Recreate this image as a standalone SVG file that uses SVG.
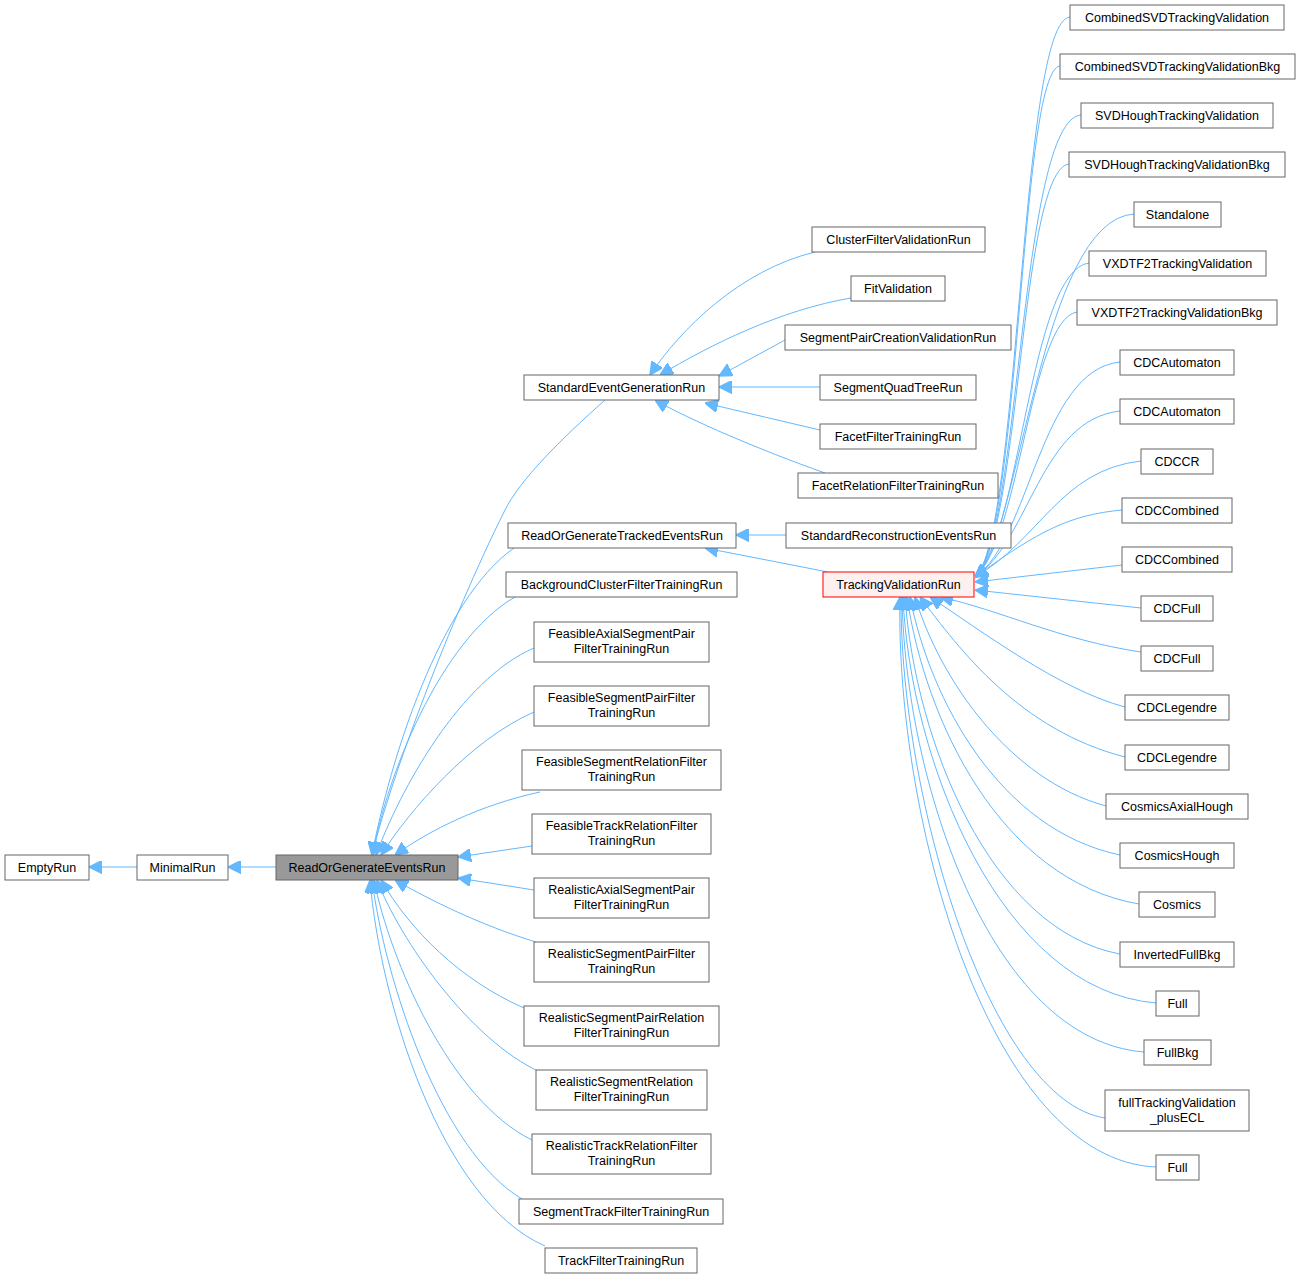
<svg xmlns="http://www.w3.org/2000/svg" width="1300" height="1280" viewBox="0 0 1300 1280">
<style>
.n rect{fill:#fff;stroke:#666;stroke-width:1}
.n text{font-family:"Liberation Sans",Arial,sans-serif;font-size:12.5px;fill:#000;text-anchor:middle}
#e path{fill:none;stroke:#63b8ff;stroke-width:1}
</style>
<defs><marker id="a" viewBox="0 0 10 10" refX="10" refY="5" markerWidth="13" markerHeight="13" markerUnits="userSpaceOnUse" orient="auto"><path d="M0,0 L10,5 L0,10 z" fill="#63b8ff" stroke="#63b8ff"/></marker></defs>
<rect width="1300" height="1280" fill="#fff"/>
<g id="e" marker-end="url(#a)">
<path d="M137,867 L89,867"/>
<path d="M276,867 L228,867"/>
<path d="M605,400 C560,440 520,480 505,510 C450,620 390,780 372,855"/>
<path d="M514,548 C440,600 390,760 372,855"/>
<path d="M515,597 C440,640 385,780 373,855"/>
<path d="M534,648 C460,680 400,790 376,855"/>
<path d="M534,712 C470,740 410,810 381,855"/>
<path d="M540,792 C480,805 430,830 395,855"/>
<path d="M532,846 L458,857"/>
<path d="M534,890 L458,878"/>
<path d="M536,942 C480,925 430,900 395,880"/>
<path d="M524,1008 C460,980 410,930 381,880"/>
<path d="M540,1072 C470,1040 400,940 377,880"/>
<path d="M532,1140 C450,1100 390,960 374,880"/>
<path d="M522,1199 C440,1150 385,980 372,880"/>
<path d="M545,1246 C440,1200 380,1000 370,880"/>
<path d="M815,252 C740,270 680,330 650,375"/>
<path d="M851,298 C780,310 710,345 660,375"/>
<path d="M785,340 L719,376"/>
<path d="M820,387 L719,387"/>
<path d="M820,430 L705,403"/>
<path d="M825,473 C760,450 690,420 655,400"/>
<path d="M786,535 L736,535"/>
<path d="M828,572 L705,548"/>
<path d="M1070,17 C1020,20 1020,540 975,577"/>
<path d="M1060,66 C1020,70 1020,540 975,577"/>
<path d="M1081,115 C1020,120 1020,540 975,577"/>
<path d="M1069,164 C1020,170 1020,540 975,577"/>
<path d="M1134,214 C1040,220 1020,540 975,577"/>
<path d="M1089,263 C1030,270 1020,540 975,577"/>
<path d="M1077,312 C1030,320 1020,540 975,577"/>
<path d="M1120,362 C1040,370 1030,540 975,577"/>
<path d="M1120,411 C1040,420 1030,540 975,577"/>
<path d="M1141,461 C1060,470 1040,540 975,577"/>
<path d="M1122,510 C1070,515 1040,530 975,577"/>
<path d="M1122,565 L975,582"/>
<path d="M1141,608 L975,590"/>
<path d="M1141,652 C1060,640 1000,610 940,597"/>
<path d="M1125,707 C1060,690 980,630 930,597"/>
<path d="M1125,757 C1020,730 960,650 920,597"/>
<path d="M1106,806 C1010,780 940,680 915,597"/>
<path d="M1120,855 C1000,830 930,700 910,597"/>
<path d="M1139,904 C1000,880 925,720 907,597"/>
<path d="M1120,954 C990,930 915,740 905,597"/>
<path d="M1156,1003 C1000,990 910,760 903,597"/>
<path d="M1144,1052 C990,1040 905,780 902,597"/>
<path d="M1105,1118 C990,1100 900,800 901,597"/>
<path d="M1156,1167 C990,1160 895,820 900,597"/>
</g>
<g class="n" id="n_empty"><rect x="5" y="855" width="84" height="25"/><text x="47" y="872">EmptyRun</text></g>
<g class="n" id="n_minimal"><rect x="137" y="855" width="91" height="25"/><text x="182.5" y="872">MinimalRun</text></g>
<g class="n" id="n_rogev"><rect x="276" y="855" width="182" height="25" style="fill:#999"/><text x="367" y="872">ReadOrGenerateEventsRun</text></g>
<g class="n" id="n_seg"><rect x="524" y="375" width="195" height="25"/><text x="621.5" y="392">StandardEventGenerationRun</text></g>
<g class="n" id="n_rogt"><rect x="508" y="523" width="228" height="25"/><text x="622" y="540">ReadOrGenerateTrackedEventsRun</text></g>
<g class="n" id="n_bg"><rect x="506" y="572" width="231" height="25"/><text x="621.5" y="589">BackgroundClusterFilterTrainingRun</text></g>
<g class="n" id="n_c1"><rect x="534" y="622" width="175" height="40"/><text x="621.5" y="638">FeasibleAxialSegmentPair</text><text x="621.5" y="653">FilterTrainingRun</text></g>
<g class="n" id="n_c2"><rect x="534" y="686" width="175" height="40"/><text x="621.5" y="702">FeasibleSegmentPairFilter</text><text x="621.5" y="717">TrainingRun</text></g>
<g class="n" id="n_c3"><rect x="522" y="750" width="199" height="40"/><text x="621.5" y="766">FeasibleSegmentRelationFilter</text><text x="621.5" y="781">TrainingRun</text></g>
<g class="n" id="n_c4"><rect x="532" y="814" width="179" height="40"/><text x="621.5" y="830">FeasibleTrackRelationFilter</text><text x="621.5" y="845">TrainingRun</text></g>
<g class="n" id="n_c5"><rect x="534" y="878" width="175" height="40"/><text x="621.5" y="894">RealisticAxialSegmentPair</text><text x="621.5" y="909">FilterTrainingRun</text></g>
<g class="n" id="n_c6"><rect x="534" y="942" width="175" height="40"/><text x="621.5" y="958">RealisticSegmentPairFilter</text><text x="621.5" y="973">TrainingRun</text></g>
<g class="n" id="n_c7"><rect x="524" y="1006" width="195" height="40"/><text x="621.5" y="1022">RealisticSegmentPairRelation</text><text x="621.5" y="1037">FilterTrainingRun</text></g>
<g class="n" id="n_c8"><rect x="536" y="1070" width="171" height="40"/><text x="621.5" y="1086">RealisticSegmentRelation</text><text x="621.5" y="1101">FilterTrainingRun</text></g>
<g class="n" id="n_c9"><rect x="532" y="1134" width="179" height="40"/><text x="621.5" y="1150">RealisticTrackRelationFilter</text><text x="621.5" y="1165">TrainingRun</text></g>
<g class="n" id="n_c10"><rect x="519" y="1199" width="204" height="25"/><text x="621" y="1216">SegmentTrackFilterTrainingRun</text></g>
<g class="n" id="n_c11"><rect x="545" y="1248" width="152" height="25"/><text x="621" y="1265">TrackFilterTrainingRun</text></g>
<g class="n" id="n_d1"><rect x="812" y="227" width="173" height="25"/><text x="898.5" y="244">ClusterFilterValidationRun</text></g>
<g class="n" id="n_d2"><rect x="851" y="276" width="94" height="25"/><text x="898" y="293">FitValidation</text></g>
<g class="n" id="n_d3"><rect x="785" y="325" width="226" height="25"/><text x="898" y="342">SegmentPairCreationValidationRun</text></g>
<g class="n" id="n_d4"><rect x="820" y="375" width="156" height="25"/><text x="898" y="392">SegmentQuadTreeRun</text></g>
<g class="n" id="n_d5"><rect x="820" y="424" width="156" height="25"/><text x="898" y="441">FacetFilterTrainingRun</text></g>
<g class="n" id="n_d6"><rect x="798" y="473" width="200" height="25"/><text x="898" y="490">FacetRelationFilterTrainingRun</text></g>
<g class="n" id="n_d7"><rect x="786" y="523" width="225" height="25"/><text x="898.5" y="540">StandardReconstructionEventsRun</text></g>
<g class="n" id="n_tvr"><rect x="823" y="572" width="151" height="25" style="fill:#fff0f0;stroke:#f00"/><text x="898.5" y="589">TrackingValidationRun</text></g>
<g class="n" id="n_e1"><rect x="1070" y="5" width="214" height="25"/><text x="1177" y="22">CombinedSVDTrackingValidation</text></g>
<g class="n" id="n_e2"><rect x="1060" y="54" width="235" height="25"/><text x="1177.5" y="71">CombinedSVDTrackingValidationBkg</text></g>
<g class="n" id="n_e3"><rect x="1081" y="103" width="192" height="25"/><text x="1177" y="120">SVDHoughTrackingValidation</text></g>
<g class="n" id="n_e4"><rect x="1069" y="152" width="216" height="25"/><text x="1177" y="169">SVDHoughTrackingValidationBkg</text></g>
<g class="n" id="n_e5"><rect x="1134" y="202" width="87" height="25"/><text x="1177.5" y="219">Standalone</text></g>
<g class="n" id="n_e6"><rect x="1089" y="251" width="177" height="25"/><text x="1177.5" y="268">VXDTF2TrackingValidation</text></g>
<g class="n" id="n_e7"><rect x="1077" y="300" width="200" height="25"/><text x="1177" y="317">VXDTF2TrackingValidationBkg</text></g>
<g class="n" id="n_e8"><rect x="1120" y="350" width="114" height="25"/><text x="1177" y="367">CDCAutomaton</text></g>
<g class="n" id="n_e9"><rect x="1120" y="399" width="114" height="25"/><text x="1177" y="416">CDCAutomaton</text></g>
<g class="n" id="n_e10"><rect x="1141" y="449" width="72" height="25"/><text x="1177" y="466">CDCCR</text></g>
<g class="n" id="n_e11"><rect x="1122" y="498" width="110" height="25"/><text x="1177" y="515">CDCCombined</text></g>
<g class="n" id="n_e12"><rect x="1122" y="547" width="110" height="25"/><text x="1177" y="564">CDCCombined</text></g>
<g class="n" id="n_e13"><rect x="1141" y="596" width="72" height="25"/><text x="1177" y="613">CDCFull</text></g>
<g class="n" id="n_e14"><rect x="1141" y="646" width="72" height="25"/><text x="1177" y="663">CDCFull</text></g>
<g class="n" id="n_e15"><rect x="1125" y="695" width="104" height="25"/><text x="1177" y="712">CDCLegendre</text></g>
<g class="n" id="n_e16"><rect x="1125" y="745" width="104" height="25"/><text x="1177" y="762">CDCLegendre</text></g>
<g class="n" id="n_e17"><rect x="1106" y="794" width="142" height="25"/><text x="1177" y="811">CosmicsAxialHough</text></g>
<g class="n" id="n_e18"><rect x="1120" y="843" width="114" height="25"/><text x="1177" y="860">CosmicsHough</text></g>
<g class="n" id="n_e19"><rect x="1139" y="892" width="76" height="25"/><text x="1177" y="909">Cosmics</text></g>
<g class="n" id="n_e20"><rect x="1120" y="942" width="114" height="25"/><text x="1177" y="959">InvertedFullBkg</text></g>
<g class="n" id="n_e21"><rect x="1156" y="991" width="43" height="25"/><text x="1177.5" y="1008">Full</text></g>
<g class="n" id="n_e22"><rect x="1144" y="1040" width="67" height="25"/><text x="1177.5" y="1057">FullBkg</text></g>
<g class="n" id="n_e23"><rect x="1105" y="1090" width="144" height="41"/><text x="1177" y="1107">fullTrackingValidation</text><text x="1177" y="1122">_plusECL</text></g>
<g class="n" id="n_e24"><rect x="1156" y="1155" width="43" height="25"/><text x="1177.5" y="1172">Full</text></g>
</svg>
